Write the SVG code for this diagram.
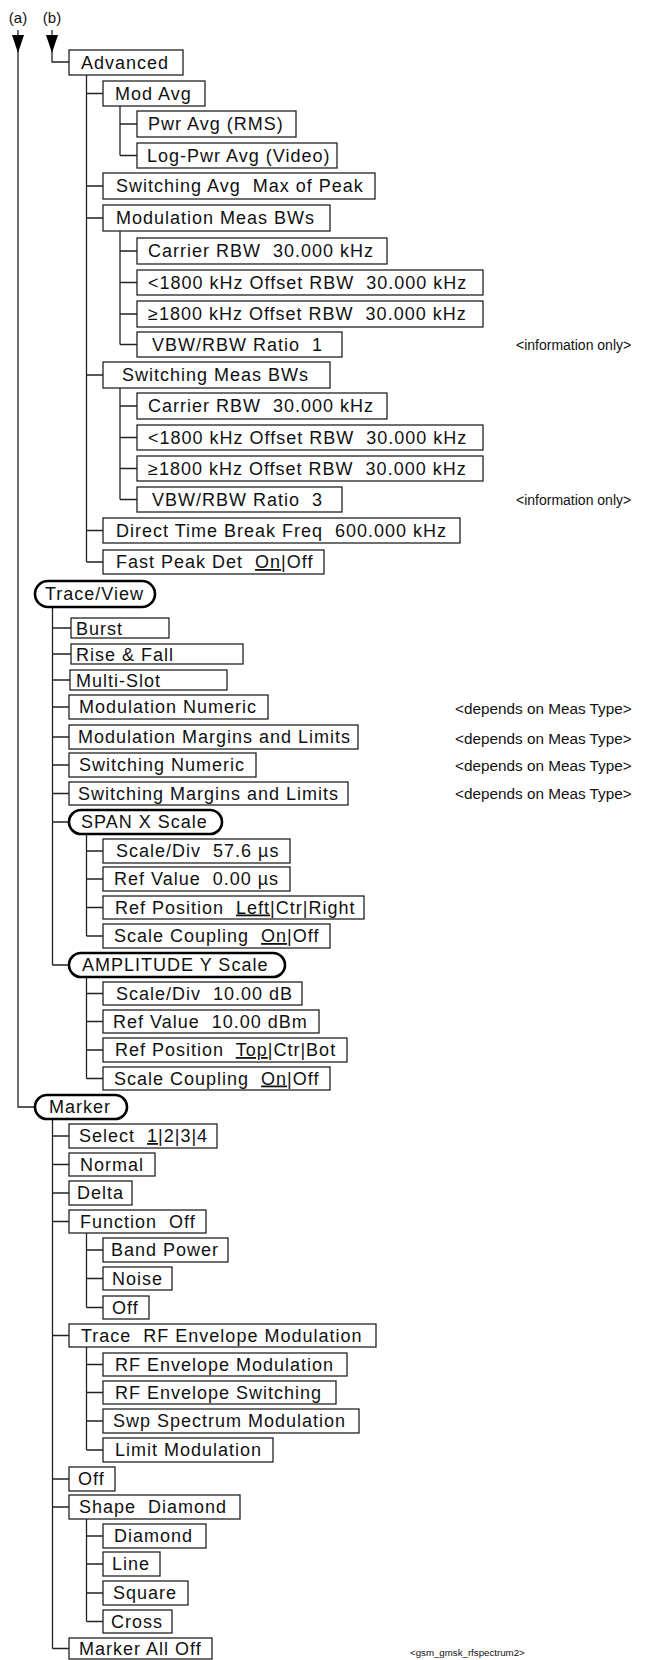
<svg xmlns="http://www.w3.org/2000/svg" width="667" height="1660" viewBox="0 0 667 1660">
<style>
.b{fill:#fff;stroke:#222;stroke-width:1.3}
.r{fill:#fff;stroke:#000;stroke-width:2.6}
.t{font-family:"Liberation Sans",Arial,sans-serif;font-size:18px;letter-spacing:1px;white-space:pre;fill:#111}
.n{font-family:"Liberation Sans",Arial,sans-serif;font-size:14px;white-space:pre;fill:#111}
.d{font-family:"Liberation Sans",Arial,sans-serif;font-size:15.3px;white-space:pre;fill:#111}
.s{font-family:"Liberation Sans",Arial,sans-serif;font-size:15px;white-space:pre;fill:#111}
.f{font-family:"Liberation Sans",Arial,sans-serif;font-size:9.7px;white-space:pre;fill:#111}
.c{stroke:#222;stroke-width:1.3;fill:none}
.a{fill:#000}
.u{text-decoration:underline}
</style>
<rect width="667" height="1660" fill="#fff"/>
<g id="connectors">
<path class="c" d="M18,30 V1107 H35"/>
<polygon class="a" points="12,35 24,35 18,53"/>
<path class="c" d="M52,30 V62 H69"/>
<polygon class="a" points="46,35 58,35 52,53"/>
<path class="c" d="M86.5,75 V562 M86.5,93.5 H103 M86.5,186 H103 M86.5,218 H103 M86.5,375 H103 M86.5,530.5 H103 M86.5,562 H103"/>
<path class="c" d="M120,106 V155.5 M120,124 H137 M120,155.5 H137"/>
<path class="c" d="M120,231 V344.5 M120,251 H137 M120,282.5 H137 M120,314 H137 M120,344.5 H137"/>
<path class="c" d="M120,388 V499.5 M120,406 H137 M120,437.5 H137 M120,468.5 H137 M120,499.5 H137"/>
<path class="c" d="M52.5,607 V965 M52.5,628 H71 M52.5,654 H71 M52.5,680 H70 M52.5,707 H69 M52.5,737 H69 M52.5,765 H69 M52.5,793.5 H69 M52.5,822 H69 M52.5,965 H69"/>
<path class="c" d="M86.5,834 V936 M86.5,851 H103 M86.5,879 H103 M86.5,907.5 H103 M86.5,936 H103"/>
<path class="c" d="M86.5,977 V1078.5 M86.5,993.5 H103 M86.5,1021.5 H103 M86.5,1050 H103 M86.5,1078.5 H103"/>
<path class="c" d="M52.5,1119 V1648.5 M52.5,1136 H69 M52.5,1164.5 H69 M52.5,1193 H69 M52.5,1221.5 H69 M52.5,1335.5 H69 M52.5,1479 H69 M52.5,1507 H69 M52.5,1648.5 H69"/>
<path class="c" d="M86.5,1233 V1307.5 M86.5,1250 H103 M86.5,1278.5 H103 M86.5,1307.5 H103"/>
<path class="c" d="M86.5,1347 V1450 M86.5,1364.5 H103 M86.5,1392.5 H103 M86.5,1421 H103 M86.5,1450 H103"/>
<path class="c" d="M86.5,1519 V1621.5 M86.5,1536 H103 M86.5,1564 H103 M86.5,1593 H103 M86.5,1621.5 H103"/>
</g>
<g id="labels">
<text class="s" x="18" y="23" text-anchor="middle">(a)</text>
<text class="s" x="52" y="23" text-anchor="middle">(b)</text>
</g>
<g id="advanced"><rect class="b" x="69" y="50" width="114" height="25"/><text class="t" x="81" y="68.5">Advanced</text></g>
<g id="mod-avg"><rect class="b" x="103" y="81" width="102" height="25"/><text class="t" x="115" y="99.5">Mod Avg</text></g>
<g id="pwr-avg"><rect class="b" x="137" y="111" width="159" height="26"/><text class="t" x="148" y="130">Pwr Avg (RMS)</text></g>
<g id="log-pwr-avg"><rect class="b" x="137" y="143" width="200" height="25"/><text class="t" x="147" y="161.5" letter-spacing="0.8">Log-Pwr Avg (Video)</text></g>
<g id="switching-avg"><rect class="b" x="103" y="173" width="272" height="26"/><text class="t" x="116" y="192">Switching Avg  Max of Peak</text></g>
<g id="mod-meas-bws"><rect class="b" x="103" y="205" width="227" height="26"/><text class="t" x="116" y="224">Modulation Meas BWs</text></g>
<g id="mod-carrier-rbw"><rect class="b" x="137" y="238" width="250" height="26"/><text class="t" x="148" y="257">Carrier RBW  30.000 kHz</text></g>
<g id="mod-lt1800"><rect class="b" x="137" y="270" width="346" height="25"/><text class="t" x="148" y="288.5">&lt;1800 kHz Offset RBW  30.000 kHz</text></g>
<g id="mod-ge1800"><rect class="b" x="137" y="301" width="346" height="26"/><text class="t" x="148" y="320">≥1800 kHz Offset RBW  30.000 kHz</text></g>
<g id="mod-vbw-ratio"><rect class="b" x="137" y="332" width="205" height="25"/><text class="t" x="152" y="350.5">VBW/RBW Ratio  1</text></g>
<g id="sw-meas-bws"><rect class="b" x="103" y="362" width="227" height="26"/><text class="t" x="122" y="381">Switching Meas BWs</text></g>
<g id="sw-carrier-rbw"><rect class="b" x="137" y="393" width="250" height="26"/><text class="t" x="148" y="412">Carrier RBW  30.000 kHz</text></g>
<g id="sw-lt1800"><rect class="b" x="137" y="425" width="346" height="25"/><text class="t" x="148" y="443.5">&lt;1800 kHz Offset RBW  30.000 kHz</text></g>
<g id="sw-ge1800"><rect class="b" x="137" y="456" width="346" height="25"/><text class="t" x="148" y="474.5">≥1800 kHz Offset RBW  30.000 kHz</text></g>
<g id="sw-vbw-ratio"><rect class="b" x="137" y="487" width="205" height="25"/><text class="t" x="152" y="505.5">VBW/RBW Ratio  3</text></g>
<g id="direct-time"><rect class="b" x="103" y="518" width="357" height="25"/><text class="t" x="116" y="536.5">Direct Time Break Freq  600.000 kHz</text></g>
<g id="fast-peak"><rect class="b" x="103" y="550" width="221" height="24"/><text class="t" x="116" y="568">Fast Peak Det  <tspan class="u">On</tspan>|Off</text></g>
<g id="trace-view"><rect class="r" x="35" y="581" width="120" height="26" rx="13"/><text class="t" x="45" y="600">Trace/View</text></g>
<g id="burst"><rect class="b" x="71" y="618" width="98" height="20"/><text class="t" x="76" y="634.5">Burst</text></g>
<g id="rise-fall"><rect class="b" x="71" y="644" width="172" height="20"/><text class="t" x="76" y="660.5">Rise &amp; Fall</text></g>
<g id="multi-slot"><rect class="b" x="70" y="670" width="157" height="20"/><text class="t" x="76" y="686.5">Multi-Slot</text></g>
<g id="mod-numeric"><rect class="b" x="69" y="695" width="199" height="24"/><text class="t" x="79" y="713">Modulation Numeric</text></g>
<g id="mod-margins"><rect class="b" x="69" y="725" width="289" height="24"/><text class="t" x="78" y="743">Modulation Margins and Limits</text></g>
<g id="sw-numeric"><rect class="b" x="69" y="753" width="187" height="24"/><text class="t" x="79" y="771">Switching Numeric</text></g>
<g id="sw-margins"><rect class="b" x="69" y="782" width="279" height="23"/><text class="t" x="78" y="799.5">Switching Margins and Limits</text></g>
<g id="span-x"><rect class="r" x="69" y="810" width="153" height="24" rx="12"/><text class="t" x="81" y="828">SPAN X Scale</text></g>
<g id="x-scale-div"><rect class="b" x="103" y="839" width="187" height="24"/><text class="t" x="116" y="857">Scale/Div  57.6 µs</text></g>
<g id="x-ref-value"><rect class="b" x="103" y="867" width="187" height="24"/><text class="t" x="114" y="885">Ref Value  0.00 µs</text></g>
<g id="x-ref-pos"><rect class="b" x="103" y="896" width="261" height="23"/><text class="t" x="115" y="913.5">Ref Position  <tspan class="u">Left</tspan>|Ctr|Right</text></g>
<g id="x-coupling"><rect class="b" x="103" y="924" width="227" height="24"/><text class="t" x="114" y="942">Scale Coupling  <tspan class="u">On</tspan>|Off</text></g>
<g id="amp-y"><rect class="r" x="69" y="953" width="216" height="24" rx="12"/><text class="t" x="82" y="971">AMPLITUDE Y Scale</text></g>
<g id="y-scale-div"><rect class="b" x="103" y="982" width="199" height="23"/><text class="t" x="116" y="999.5">Scale/Div  10.00 dB</text></g>
<g id="y-ref-value"><rect class="b" x="103" y="1010" width="216" height="23"/><text class="t" x="113" y="1027.5">Ref Value  10.00 dBm</text></g>
<g id="y-ref-pos"><rect class="b" x="103" y="1038" width="244" height="24"/><text class="t" x="115" y="1056">Ref Position  <tspan class="u">Top</tspan>|Ctr|Bot</text></g>
<g id="y-coupling"><rect class="b" x="103" y="1067" width="227" height="23"/><text class="t" x="114" y="1084.5">Scale Coupling  <tspan class="u">On</tspan>|Off</text></g>
<g id="marker"><rect class="r" x="35" y="1095" width="92" height="24" rx="12"/><text class="t" x="49" y="1113">Marker</text></g>
<g id="select"><rect class="b" x="69" y="1124" width="148" height="24"/><text class="t" x="79" y="1142">Select  <tspan class="u">1</tspan>|2|3|4</text></g>
<g id="normal"><rect class="b" x="69" y="1153" width="86" height="23"/><text class="t" x="80" y="1170.5">Normal</text></g>
<g id="delta"><rect class="b" x="69" y="1181" width="63" height="24"/><text class="t" x="77" y="1199">Delta</text></g>
<g id="function"><rect class="b" x="69" y="1210" width="137" height="23"/><text class="t" x="80" y="1227.5">Function  Off</text></g>
<g id="band-power"><rect class="b" x="103" y="1238" width="125" height="24"/><text class="t" x="111" y="1256">Band Power</text></g>
<g id="noise"><rect class="b" x="103" y="1267" width="69" height="23"/><text class="t" x="112" y="1284.5">Noise</text></g>
<g id="function-off"><rect class="b" x="103" y="1296" width="46" height="23"/><text class="t" x="112" y="1313.5">Off</text></g>
<g id="trace"><rect class="b" x="69" y="1324" width="307" height="23"/><text class="t" x="81" y="1341.5">Trace  RF Envelope Modulation</text></g>
<g id="rf-env-mod"><rect class="b" x="103" y="1353" width="244" height="23"/><text class="t" x="115" y="1370.5">RF Envelope Modulation</text></g>
<g id="rf-env-sw"><rect class="b" x="103" y="1381" width="233" height="23"/><text class="t" x="115" y="1398.5">RF Envelope Switching</text></g>
<g id="swp-spectrum"><rect class="b" x="103" y="1409" width="256" height="24"/><text class="t" x="113" y="1427">Swp Spectrum Modulation</text></g>
<g id="limit-mod"><rect class="b" x="103" y="1438" width="170" height="24"/><text class="t" x="115" y="1456">Limit Modulation</text></g>
<g id="marker-off"><rect class="b" x="69" y="1467" width="46" height="24"/><text class="t" x="78" y="1485">Off</text></g>
<g id="shape"><rect class="b" x="69" y="1495" width="171" height="24"/><text class="t" x="79" y="1513">Shape  Diamond</text></g>
<g id="diamond"><rect class="b" x="103" y="1524" width="103" height="24"/><text class="t" x="114" y="1542">Diamond</text></g>
<g id="line"><rect class="b" x="103" y="1552" width="57" height="24"/><text class="t" x="112" y="1570">Line</text></g>
<g id="square"><rect class="b" x="103" y="1581" width="85" height="24"/><text class="t" x="113" y="1599">Square</text></g>
<g id="cross"><rect class="b" x="103" y="1610" width="69" height="23"/><text class="t" x="111" y="1627.5">Cross</text></g>
<g id="marker-all-off"><rect class="b" x="69" y="1638" width="143" height="21"/><text class="t" x="79" y="1655">Marker All Off</text></g>
<g id="notes">
<text class="n" x="516" y="349.5">&lt;information only&gt;</text>
<text class="n" x="516" y="504.5">&lt;information only&gt;</text>
<text class="d" x="455" y="714">&lt;depends on Meas Type&gt;</text>
<text class="d" x="455" y="743.5">&lt;depends on Meas Type&gt;</text>
<text class="d" x="455" y="771">&lt;depends on Meas Type&gt;</text>
<text class="d" x="455" y="799">&lt;depends on Meas Type&gt;</text>
<text class="f" x="410" y="1656">&lt;gsm_gmsk_rfspectrum2&gt;</text>
</g>
</svg>
